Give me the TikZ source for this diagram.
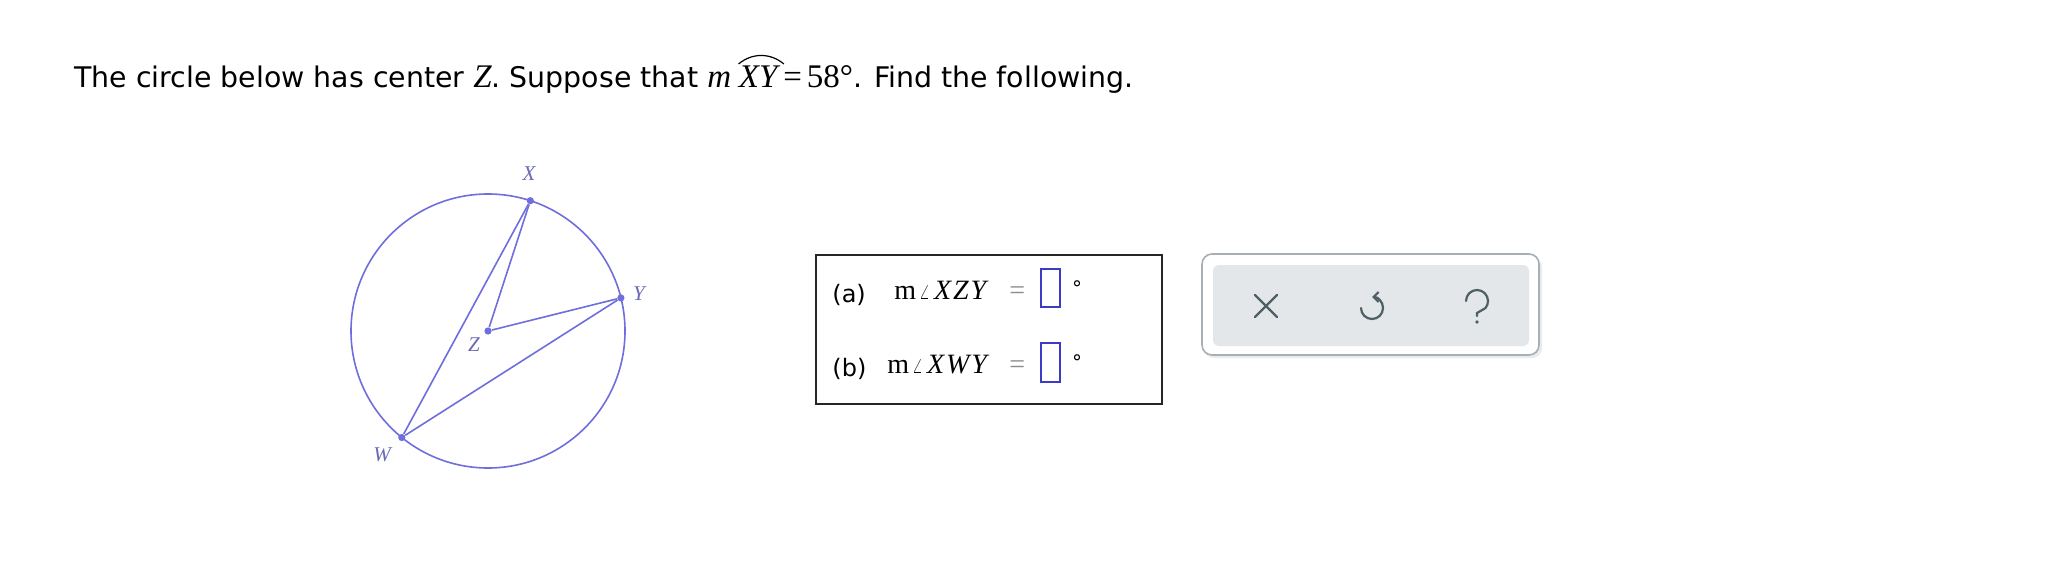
\documentclass[tikz,border=0pt]{standalone}
\usepackage{fontspec}
\setmainfont{DejaVu Sans}
\newfontfamily\tms{Liberation Serif}
\usepackage{graphicx}
\usetikzlibrary{positioning,arrows.meta}

\definecolor{geo}{HTML}{6E6EDC}
\definecolor{geolbl}{HTML}{6A6AB4}
\definecolor{inbox}{HTML}{3B3BC8}
\definecolor{panel}{HTML}{E3E7EA}
\definecolor{panelrim}{HTML}{A7AFB4}
\definecolor{icon}{HTML}{4E5F66}

\newcommand{\ang}{\raisebox{0.05ex}{\scalebox{0.7}{$\angle$}}}
\newcommand{\titlefont}{\fontsize{14.2}{16}\selectfont}
\newcommand{\mathfont}{\tms\fontsize{16.5}{18}\selectfont}

\tikzset{
  pt/.style={circle,fill=geo,inner sep=0pt,minimum size=3.6pt},
  lbl/.style={text=geolbl,font=\tms\itshape\fontsize{10.5}{12}\selectfont,inner sep=0pt},
  txt/.style={inner sep=0pt,anchor=base west},
  ansbox/.style={draw=inbox,line width=1.1pt},
  row/.style={inner sep=0pt,anchor=base west,font=\fontsize{12}{14}\selectfont},
  rowmath/.style={inner sep=0pt,anchor=base west,font=\tms\fontsize{14}{16}\selectfont},
  degsign/.style={inner sep=0pt,font=\fontsize{10}{11}\selectfont},
  icn/.style={draw=icon,line width=1.1pt,line cap=round},
}

\begin{document}
\begin{tikzpicture}[x=0.5pt,y=-0.5pt]
\fill[white] (0,0) rectangle (2048,561);
\useasboundingbox (0,0) rectangle (2048,561);

% title line
\node[txt,font=\titlefont] (t1) at (74,88) {The circle below has center {\mathfont\itshape Z}. Suppose that {\mathfont\itshape m}};
\node[txt,font=\mathfont\itshape,xshift=3.5pt] (t2) at (t1.base east) {XY};
\node[txt,font=\titlefont] (t3) at (t2.base east) {{\mathfont\kern2.5pt=\kern2.5pt58°}. Find the following.};
\draw[line width=0.6pt] ([xshift=0pt,yshift=1pt]t2.north west) to[bend left=40] ([xshift=3pt,yshift=1pt]t2.north east);

% circle with center Z
\draw[geo,line width=0.8pt] (488,331) circle[radius=68.5pt];
\node[pt] (X) at (530.3,200.7) {};
\node[pt] (Y) at (620.9,297.9) {};
\node[pt] (Z) at (488,331) {};
\node[pt] (W) at (401.8,437.5) {};
\draw[geo,line width=0.8pt] (X) -- (W);
\draw[geo,line width=0.8pt] (X) -- (Z);
\draw[geo,line width=0.8pt] (Z) -- (Y);
\draw[geo,line width=0.8pt] (Y) -- (W);
\node[lbl] (lx) at (529,174) {X};
\node[lbl] (ly) at (639,294) {Y};
\node[lbl] (lz) at (474,345) {Z};
\node[lbl] (lw) at (382,455) {W};

% answer box
\draw[black!85,line width=0.8pt] (816,255) rectangle (1162,404);
\node[row] (pa) at (832,302) {(a)};
\node[rowmath] (ma) at (894,299) {m\kern1.5pt\ang\kern2pt\textit{X\kern1pt Z\kern1pt Y}};
\node[rowmath,text=black!45] (ea) at (1009,299) {=};
\draw[ansbox] (1041,269) rectangle (1060,307);
\node[degsign] (da) at (1077,288) {°};
\node[row] (pb) at (832,376) {(b)};
\node[rowmath] (mb) at (887,373) {m\kern1.5pt\ang\kern2pt\textit{X\kern1pt W\kern1pt Y}};
\node[rowmath,text=black!45] (eb) at (1009,373) {=};
\draw[ansbox] (1041,343) rectangle (1060,382);
\node[degsign] (db) at (1077,362) {°};

% tool panel
\fill[black!8,rounded corners=5pt] (1204,257) rectangle (1542,358);
\draw[panelrim,fill=white,line width=0.8pt,rounded corners=5pt] (1202,254) rectangle (1539,355);
\fill[panel,rounded corners=3pt] (1213,265) rectangle (1529,346);
\draw[icn] (1255,295) -- (1277,317);
\draw[icn] (1277,295) -- (1255,317);
\draw[icn,{Straight Barb[length=2.5pt,width=5pt]}-] (1372,297) arc[start angle=90,end angle=-180,radius=5.5pt];
\draw[icn] (1466,301) arc[start angle=180,end angle=-40,radius=5.5pt] -- (1477,313) -- (1477,316);
\fill[icon] (1477,322) circle[radius=0.9pt];
\end{tikzpicture}
\end{document}
